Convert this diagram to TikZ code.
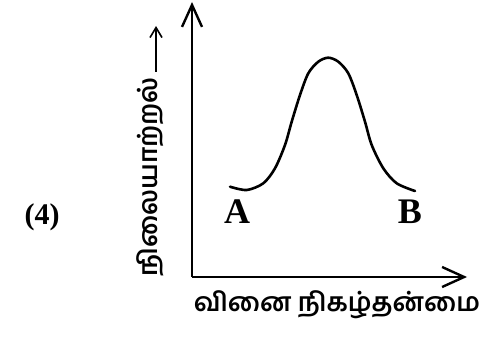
\documentclass[tikz,border=0pt]{standalone}
\usepackage{fontspec}
\setmainfont{Liberation Serif}
\newfontfamily\tamilfont[Script=Tamil]{Hind Madurai}
\usetikzlibrary{arrows.meta}
\begin{document}
\begin{tikzpicture}[x=1pt,y=1pt,
  axis/.style={line width=2.4pt,-{Straight Barb[length=22pt,width=20pt]}},
  curve/.style={line width=2.6pt,line cap=round},
  letter/.style={font=\fontsize{36}{36}\selectfont\bfseries,inner sep=0pt},
  tlab/.style={font=\fontsize{26}{26}\tamilfont\bfseries,inner sep=0pt}]
\useasboundingbox (0,0) rectangle (488,338);
\coordinate (O) at (192,61);
\coordinate (Ytop) at (192,336);
\coordinate (Xend) at (467,61);
\draw[axis] (O) -- (Ytop);
\draw[axis] (O) -- (Xend);
\draw[curve] plot[smooth,tension=0.5] coordinates {
 (230,151.3) (246.7,148) (263.3,154.7) (275,169.7) (285,193) (291.7,216.3)
 (300,243) (308.3,264.7) (318.3,276.3) (328.3,280.3) (338.3,276.3) (348.3,264.7)
 (356.7,243) (365,216.3) (371.7,193) (383.3,169.7) (396.7,154.7) (415,147)};
\node[letter] (A) at (237,126) {A};
\node[letter] (B) at (410,126) {B};
\node[font=\fontsize{30}{30}\selectfont\bfseries,inner sep=0pt] (n4) at (42,121) {(4)};
\node[tlab] (xl) at (337,33) {வினை நிகழ்தன்மை};
\node[tlab,rotate=90] (yl) at (150,161) {நிலையாற்றல்};
\coordinate (yb) at (156,266);
\coordinate (ya) at (156,312);
\draw[line width=1.6pt,-{Straight Barb[length=10pt,width=12pt]}] (yb) -- (ya);
\end{tikzpicture}
\end{document}
